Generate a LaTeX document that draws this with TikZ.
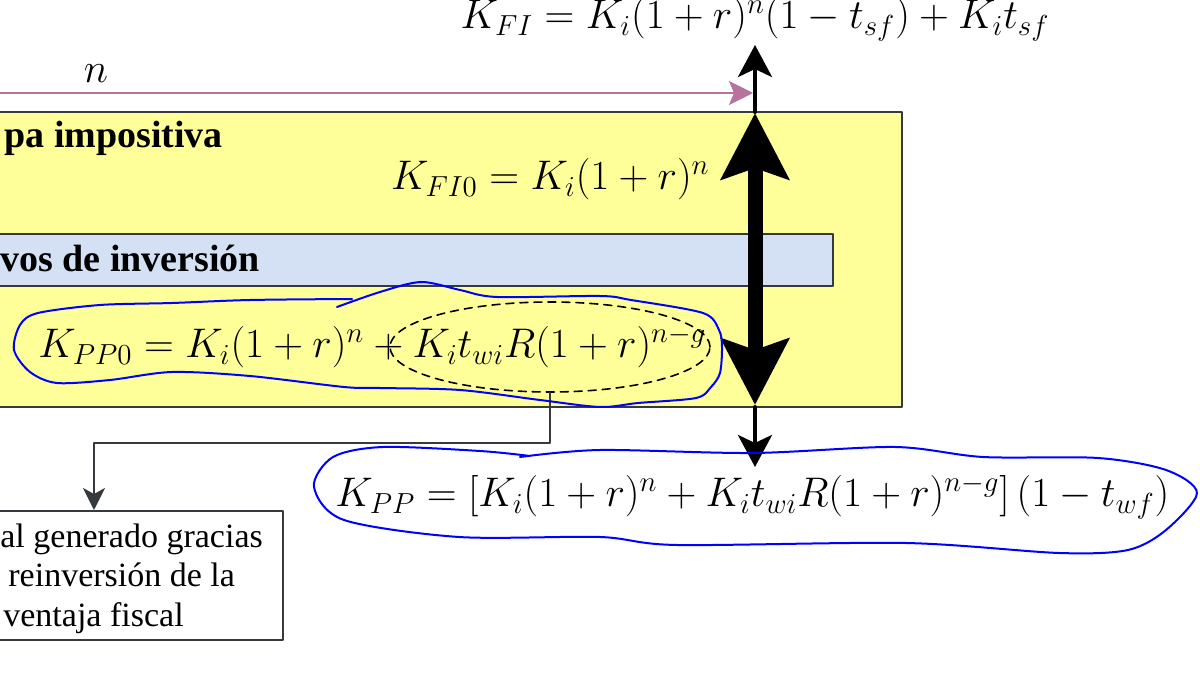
\RequirePackage{fix-cm}
\documentclass[tikz,border=0pt]{standalone}
\usepackage{fontspec}
\newfontfamily\boxfont{Liberation Serif}
\usetikzlibrary{arrows.meta,shapes.geometric}
\definecolor{etapafill}{HTML}{FFFF99}
\definecolor{vehfill}{HTML}{D4E1F5}
\definecolor{borde}{HTML}{36393D}
\definecolor{plazo}{HTML}{B5739D}
\definecolor{tinta}{HTML}{0000FF}
\tikzset{
  formula/.style={font=\fontsize{20.7}{25}\selectfont, inner sep=0pt},
  titulo/.style={font=\boxfont\bfseries\fontsize{19}{23}\selectfont, inner sep=0pt},
  cajatxt/.style={font=\boxfont\fontsize{17}{20}\selectfont, inner sep=0pt},
  bigarrow/.style={line width=7.5pt, {Stealth[length=33pt,width=33.5pt,inset=5.5pt]}-{Stealth[length=33pt,width=33.5pt,inset=5.5pt]}},
  thinarrow/.style={line width=2pt, -{Stealth[length=16pt,width=17pt,inset=4pt]}},
  plazoarrow/.style={line width=1pt, draw=plazo, -{Stealth[length=12pt,width=12pt,inset=2.5pt]}},
  conn/.style={line width=1pt, draw=borde, -{Stealth[length=11pt,width=11pt,inset=3pt]}},
  handline/.style={line width=1pt, draw=tinta},
}
\begin{document}
\begin{tikzpicture}[x=0.5pt,y=-0.5pt,line join=round,line cap=round]
\useasboundingbox (0,0) rectangle (1200,673);
% cajas
\filldraw[fill=etapafill, draw=borde, line width=1.4pt] (-20,112) rectangle (902,407);
\filldraw[fill=vehfill, draw=borde, line width=1.2pt] (-20,234) rectangle (833,286);
\node[titulo, anchor=base west] (etapa-lbl) at (4,148) {pa impositiva};
\node[titulo, anchor=base west] (veh-lbl) at (0,272) {vos de inversión};
% plazo n
\coordinate (plazo-ini) at (-10,93);
\coordinate (plazo-fin) at (753,93);
\draw[plazoarrow] (plazo-ini) -- (plazo-fin);
\node[formula, anchor=base] (nlab) at (96,83) {$n$};
% formulas
\node[formula, anchor=base] (kfi) at (755,29) {$K_{FI} = K_i(1+r)^n(1-t_{sf})+K_it_{sf}$};
\node[formula, anchor=base east] (kfi0) at (710,190) {$K_{FI0} = K_i(1+r)^n$};
\node[formula, anchor=base west] (kpp0) at (38,358) {$K_{PP0} = K_i(1+r)^n + K_it_{wi}R(1+r)^{n-g}$};
\node[formula, anchor=base west] (kpp) at (335,507) {$K_{PP} = \left[K_i(1+r)^n + K_it_{wi}R(1+r)^{n-g}\right](1-t_{wf})$};
\node[draw, dashed, dash pattern=on 4pt off 3pt, line width=0.8pt, ellipse, minimum width=160pt, minimum height=45pt] (bonus) at (550,347) {};
% capital generado
\node[draw=borde, fill=white, line width=1pt, minimum width=189pt, minimum height=64.5pt, anchor=north] (caja) at (94,510) {};
\node[cajatxt, anchor=base west] (caja-l1) at (0,547) {al generado gracias};
\node[cajatxt, anchor=base west] (caja-l2) at (8,587) {reinversión de la};
\node[cajatxt, anchor=base west] (caja-l3) at (3,626) {ventaja fiscal};
\draw[conn] (bonus.south) -- ++(0,50) -| (caja.north);
% flechas verticales
\coordinate (big-top) at (755,113);
\coordinate (big-bot) at (755,405);
\coordinate (up-ini) at (755,112);
\coordinate (up-fin) at (755,45);
\coordinate (down-ini) at (755,407);
\coordinate (down-fin) at (755,467);
\draw[bigarrow] (big-top) -- (big-bot);
\draw[thinarrow] (up-ini) -- (up-fin);
\draw[thinarrow] (down-ini) -- (down-fin);
% trazos a mano
\draw[handline] plot[smooth] coordinates {(337,307) (380,292) (421,282) (460,290) (497,297) (600,296) (631,300) (703,313) (719,330) (722,347) (720,373) (711,387) (696,398) (638,403) (600,407) (540,400) (460,390) (380,388) (344,387) (250,376) (172,372) (110,380) (57,383) (30,372) (14,350) (20,325) (38,313) (100,305) (172,303) (250,300) (352,299)};
\draw[handline] plot[smooth] coordinates {(520,457) (600,450) (753,453) (895,447) (983,457) (1098,458) (1166,470) (1197,493) (1166,530) (1128,550) (1059,553) (906,543) (677,545) (600,537) (459,537) (344,520) (314,487) (333,457) (383,447) (480,451) (530,456)};
\end{tikzpicture}
\end{document}
